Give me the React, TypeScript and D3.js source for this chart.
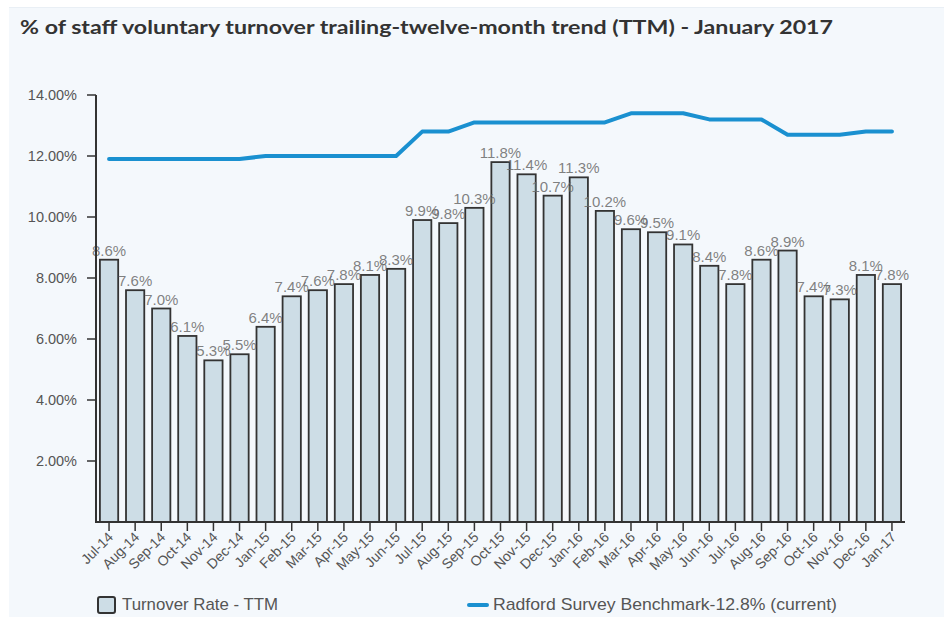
import React from "react";
import * as d3 from "d3";

const months = ["Jul-14","Aug-14","Sep-14","Oct-14","Nov-14","Dec-14","Jan-15","Feb-15","Mar-15","Apr-15","May-15","Jun-15","Jul-15","Aug-15","Sep-15","Oct-15","Nov-15","Dec-15","Jan-16","Feb-16","Mar-16","Apr-16","May-16","Jun-16","Jul-16","Aug-16","Sep-16","Oct-16","Nov-16","Dec-16","Jan-17"];
const turnover = [8.6,7.6,7.0,6.1,5.3,5.5,6.4,7.4,7.6,7.8,8.1,8.3,9.9,9.8,10.3,11.8,11.4,10.7,11.3,10.2,9.6,9.5,9.1,8.4,7.8,8.6,8.9,7.4,7.3,8.1,7.8];
const benchmark = [11.9,11.9,11.9,11.9,11.9,11.9,12.0,12.0,12.0,12.0,12.0,12.0,12.8,12.8,13.1,13.1,13.1,13.1,13.1,13.1,13.4,13.4,13.4,13.2,13.2,13.2,12.7,12.7,12.7,12.8,12.8];
const yTicks = [2,4,6,8,10,12,14];
const titleText = "% of staff voluntary turnover trailing-twelve-month trend (TTM) - January 2017";
const legendBar = "Turnover Rate - TTM";
const legendLine = "Radford Survey Benchmark-12.8% (current)";

export default function App() {
  const W = 944, H = 617;
  const x = d3.scaleBand<string>().domain(months).range([96, 905]).paddingInner(0.3).paddingOuter(0.15);
  const y = d3.scaleLinear().domain([0, 14]).range([522, 95]);
  const line = d3.line<number>().x((_, i) => (x(months[i]) as number) + x.bandwidth() / 2).y(d => y(d));
  const font = "Liberation Sans, Arial, sans-serif";
  return (
    <svg width={W} height={H} style={{ position: "absolute", left: 0, top: 0 }}>
      <rect x={0} y={0} width={W} height={H} fill="#ffffff" />
      <rect x={9} y={7} width={935} height={610} fill="#f4f8fc" />
      <line x1={9} x2={944} y1={7.5} y2={7.5} stroke="#e9eff5" />
      <text x={20} y={34} fontFamily="Lato, sans-serif" fontWeight={700} fontSize={19} fill="#333" textLength={813} lengthAdjust="spacingAndGlyphs">{titleText}</text>
      {/* bars */}
      {turnover.map((v, i) => (
        <rect key={"b" + i} x={x(months[i])} y={y(v)} width={x.bandwidth()} height={y(0) - y(v)} fill="#cddde6" stroke="#333" strokeWidth={1.8} />
      ))}
      {/* benchmark line */}
      <path d={line(benchmark) || ""} fill="none" stroke="#1a90d0" strokeWidth={4} strokeLinecap="round" strokeLinejoin="round" />
      {/* value labels */}
      {turnover.map((v, i) => (
        <text key={"l" + i} x={(x(months[i]) as number) + x.bandwidth() / 2} y={y(v) - 4} textAnchor="middle" fontFamily={font} fontSize={15} fill="#6a6a6a" fillOpacity={0.85}>{v.toFixed(1) + "%"}</text>
      ))}
      {/* y axis */}
      <line x1={96} x2={96} y1={95} y2={522} stroke="#333" strokeWidth={2} />
      {yTicks.map(t => (
        <g key={"t" + t}>
          <line x1={87} x2={96} y1={y(t)} y2={y(t)} stroke="#333" strokeWidth={1.5} />
          <text x={77} y={y(t) + 5} textAnchor="end" fontFamily={font} fontSize={14.5} fill="#555">{t.toFixed(2) + "%"}</text>
        </g>
      ))}
      {/* x axis */}
      <line x1={95} x2={905} y1={522} y2={522} stroke="#333" strokeWidth={2} />
      {months.map((m, i) => {
        const cx = (x(m) as number) + x.bandwidth() / 2;
        return (
          <g key={"x" + i}>
            <line x1={cx} x2={cx} y1={522} y2={531} stroke="#333" strokeWidth={1.5} />
            <text transform={`translate(${cx + 5},${538}) rotate(-45)`} textAnchor="end" fontFamily={font} fontSize={14} fill="#555">{m}</text>
          </g>
        );
      })}
      {/* legend */}
      <rect x={98} y={597} width={17} height={16} rx={2} fill="#cddde6" stroke="#333" strokeWidth={2} />
      <text x={122} y={610} fontFamily={font} fontSize={17} fill="#555" textLength={156} lengthAdjust="spacingAndGlyphs">{legendBar}</text>
      <line x1={469} x2={487} y1={605} y2={605} stroke="#1a90d0" strokeWidth={4} strokeLinecap="round" />
      <text x={493} y={610} fontFamily={font} fontSize={17} fill="#555" textLength={344} lengthAdjust="spacingAndGlyphs">{legendLine}</text>
    </svg>
  );
}
